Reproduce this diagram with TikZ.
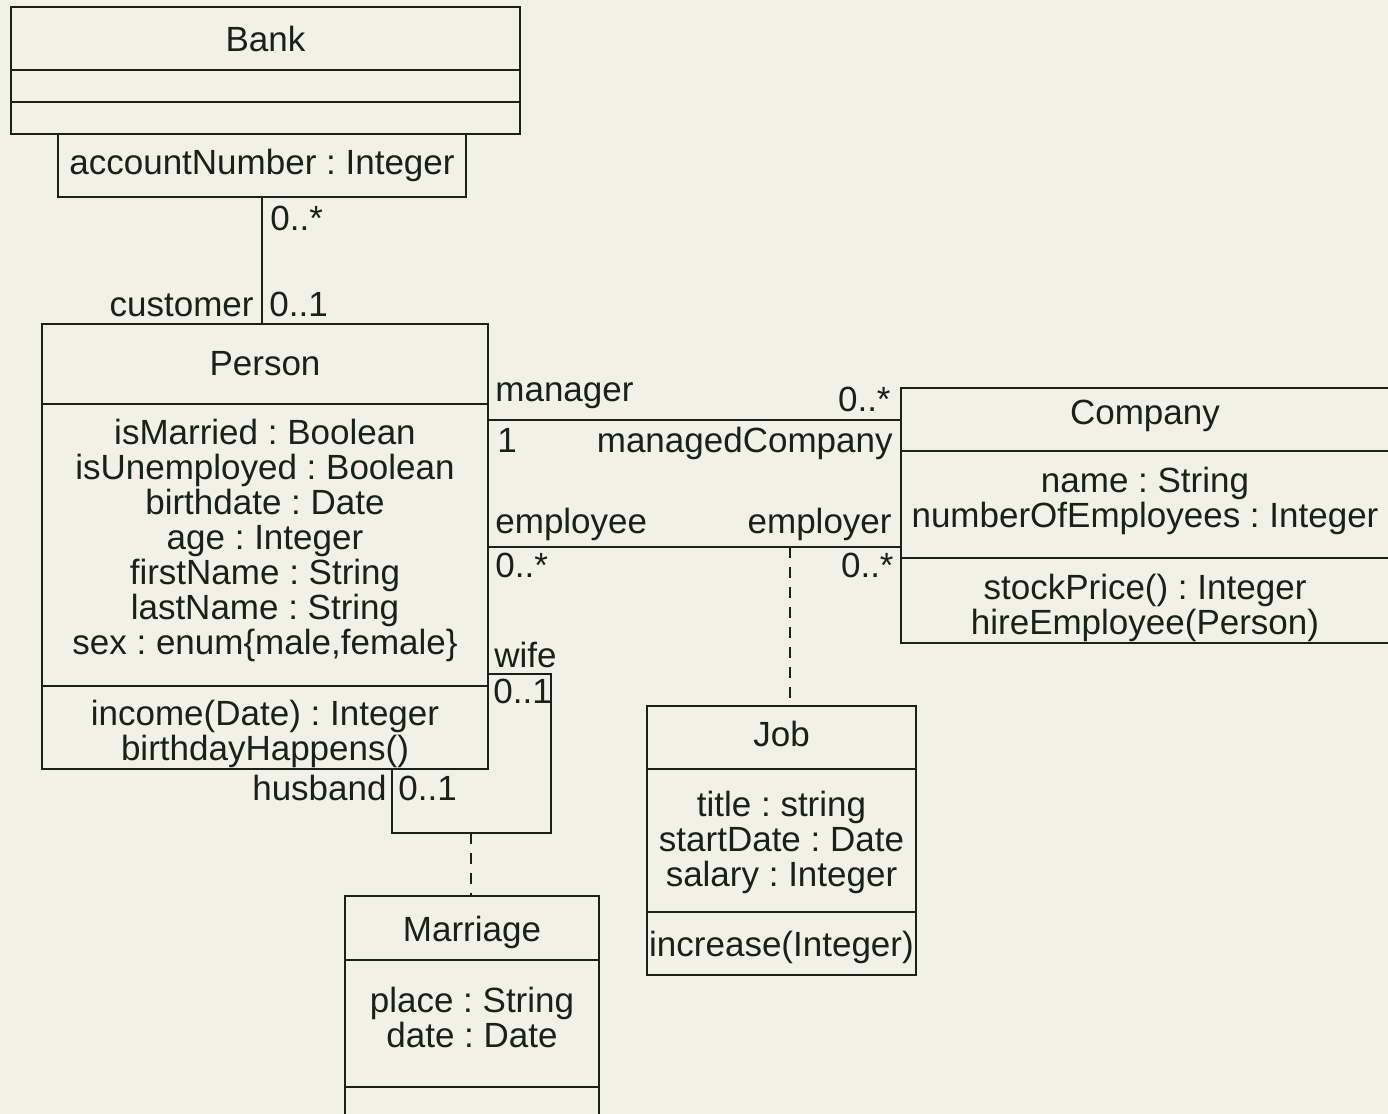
\documentclass[tikz,border=0pt]{standalone}
\usepackage{fontspec}
\setmainfont{Liberation Sans}
\usetikzlibrary{positioning}
\definecolor{Paper}{HTML}{F1F1E6}
\definecolor{Ink}  {HTML}{1A2218}
\newcommand{\umlfont}{\fontsize{17.5pt}{17.5pt}\selectfont\frenchspacing}
% struts that push a compartment's text down (\padtop) or up (\padbot)
\newcommand{\padtop}[1]{\rule{0pt}{#1}}
\newcommand{\padbot}[1]{\rule[-#1]{0pt}{#1}}
\tikzset{
  cls/.style args={#1/#2}{
    rectangle, draw=Ink, text=Ink,
    font=\umlfont, align=center,
    inner sep=1pt, outer sep=0pt,
    minimum width=#1, minimum height=#2,
    line width=1pt,
  },
  assoc/.style={draw=Ink, line width=1pt},
  link/.style={draw=Ink, line width=1pt, dash pattern=on 5.5pt off 4.5pt},
  lbl/.style={font=\umlfont, text=Ink, inner sep=0pt},
}
\begin{document}
\begin{tikzpicture}[x=0.5pt,y=-0.5pt]

      \useasboundingbox (0,0) rectangle (1388,1114);
      \fill[Paper] (0,0) rectangle (1388,1114);
      \clip (0,0) rectangle (1388,1114);

      % Bank with qualifier
      \node[cls=254.5pt/31.5pt, anchor=north west] (bankName) at (11,7) {Bank};
      \node[cls=254.5pt/16pt, below=0pt of bankName] (bankAttr) {};
      \node[cls=254.5pt/16pt, below=0pt of bankAttr] (bankOps) {};
      \node[cls=204pt/31.5pt, anchor=north west] (bankQual) at (58,134)
            {accountNumber : Integer};

      % Person
      \node[cls=223pt/40pt, anchor=north west] (perName) at (42,324) {Person};
      \node[cls=223pt/141pt, below=0pt of perName] (perAttr)
            {isMarried : Boolean\\isUnemployed : Boolean\\birthdate : Date\\
             age : Integer\\firstName : String\\lastName : String\\
             sex : enum\{male,female\}\padbot{8pt}};
      \node[cls=223pt/41.5pt, below=0pt of perAttr] (perOps)
            {\padtop{18.5pt}income(Date) : Integer\\birthdayHappens()};

      % Company
      \node[cls=244pt/31.5pt, anchor=north west] (compName) at (901,388)
            {Company\padbot{7.7pt}};
      \node[cls=244pt/53.5pt, below=0pt of compName] (compAttr)
            {name : String\\numberOfEmployees : Integer\padbot{6.7pt}};
      \node[cls=244pt/42pt, below=0pt of compAttr] (compOps)
            {\padtop{19.5pt}stockPrice() : Integer\\hireEmployee(Person)};

      % Job
      \node[cls=134.5pt/31.5pt, anchor=north west] (jobName) at (647,706)
            {Job\padbot{3.2pt}};
      \node[cls=134.5pt/71.5pt, below=0pt of jobName] (jobAttr)
            {\padtop{14.5pt}title : string\\startDate : Date\\salary : Integer};
      \node[cls=134.5pt/31.5pt, below=0pt of jobAttr] (jobOps)
            {\padtop{16.5pt}increase(Integer)};

      % Marriage
      \node[cls=127pt/32pt, anchor=north west] (marName) at (345,896)
            {\padtop{17.5pt}Marriage};
      \node[cls=127pt/63.5pt, below=0pt of marName] (marAttr)
            {place : String\\date : Date\padbot{6.2pt}};
      \node[cls=127pt/16pt, below=0pt of marAttr] (marOps) {};

      % associations
      \draw[assoc] (bankQual.south) -- (bankQual.south |- perName.north);
      \draw[assoc] (perAttr.east |- compName.west) -- (compName.west);
      \coordinate (empL) at (perAttr.east |- 0,547);
      \coordinate (empR) at (compAttr.west |- 0,547);
      \draw[assoc] (empL) -- (empR);
      \coordinate (jobAt) at (790,547);
      \draw[link] (jobAt) -- (jobAt |- jobName.north);
      \coordinate (wifeAt) at (perAttr.east |- 0,674);
      \coordinate (husbAt) at (perOps.south -| 392,0);
      \coordinate (marAt) at (471,833);
      \draw[assoc] (wifeAt) -- (551,674) -- (551,833) -- (392,833) -- (husbAt);
      \draw[link] (marAt) -- (marAt |- marName.north);

      % roles and multiplicities
      \node[lbl, anchor=base west] (mBank) at (270,230) {0..*};
      \node[lbl, anchor=base east] (rCust) at (254,316) {customer};
      \node[lbl, anchor=base west] (mCust) at (269,316) {0..1};
      \node[lbl, anchor=base west] (rMgr) at (495,401) {manager};
      \node[lbl, anchor=base east] (mMgd) at (891,411) {0..*};
      \node[lbl, anchor=base west] (mMgr) at (497,452) {1};
      \node[lbl, anchor=base east] (rMgd) at (893,452) {managedCompany};
      \node[lbl, anchor=base west] (rEmp) at (495,533) {employee};
      \node[lbl, anchor=base east] (rEmpr) at (892,533) {employer};
      \node[lbl, anchor=base west] (mEmp) at (495,577) {0..*};
      \node[lbl, anchor=base east] (mEmpr) at (894,577) {0..*};
      \node[lbl, anchor=base west] (rWife) at (494,667) {wife};
      \node[lbl, anchor=base west] (mWife) at (493,703) {0..1};
      \node[lbl, anchor=base east] (rHusb) at (387,800) {husband};
      \node[lbl, anchor=base west] (mHusb) at (398,800) {0..1};

    \end{tikzpicture}
\end{document}
